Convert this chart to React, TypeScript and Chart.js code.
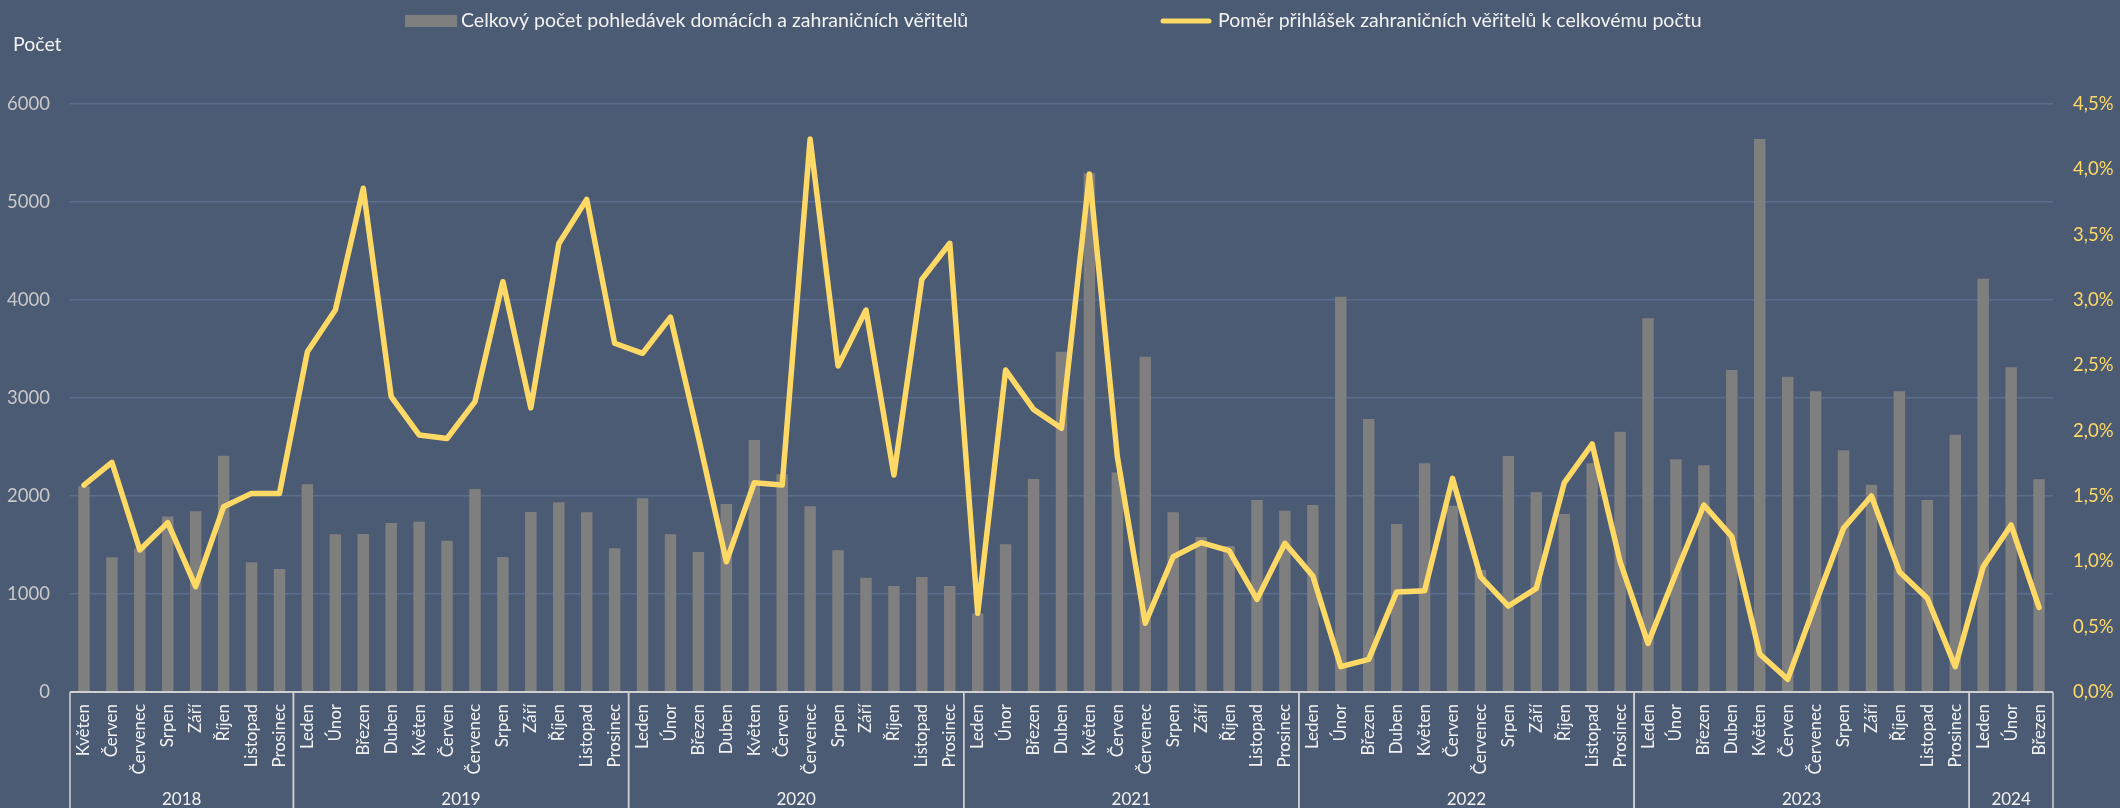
import React, { useEffect, useRef } from "react";
import { Chart, registerables } from "chart.js";

Chart.register(...registerables);

const monthLabels: string[] = [
  "Květen", "Červen", "Červenec", "Srpen", "Září", "Říjen", "Listopad", "Prosinec",
  "Leden", "Únor", "Březen", "Duben", "Květen", "Červen", "Červenec", "Srpen", "Září", "Říjen", "Listopad", "Prosinec",
  "Leden", "Únor", "Březen", "Duben", "Květen", "Červen", "Červenec", "Srpen", "Září", "Říjen", "Listopad", "Prosinec",
  "Leden", "Únor", "Březen", "Duben", "Květen", "Červen", "Červenec", "Srpen", "Září", "Říjen", "Listopad", "Prosinec",
  "Leden", "Únor", "Březen", "Duben", "Květen", "Červen", "Červenec", "Srpen", "Září", "Říjen", "Listopad", "Prosinec",
  "Leden", "Únor", "Březen", "Duben", "Květen", "Červen", "Červenec", "Srpen", "Září", "Říjen", "Listopad", "Prosinec",
  "Leden", "Únor", "Březen",
];

const yearLabels: string[] = ["2018", "2019", "2020", "2021", "2022", "2023", "2024"];
const monthsPerYear: number[] = [8, 12, 12, 12, 12, 12, 3];

const totalClaims: number[] = [
  2100, 1375, 1465, 1790, 1845, 2410, 1323, 1255,
  2119, 1610, 1612, 1724, 1736, 1544, 2071, 1377, 1838, 1935, 1834, 1466,
  1976, 1610, 1429, 1918, 2571, 2221, 1895, 1446, 1166, 1082, 1173, 1082,
  800, 1507, 2173, 3473, 5293, 2241, 3422, 1833, 1582, 1490, 1959, 1850,
  1908, 4034, 2786, 1714, 2333, 1901, 1245, 2408, 2037, 1816, 2333, 2656,
  3813, 2374, 2313, 3286, 5643, 3218, 3068, 2466, 2116, 3068, 1959, 2626,
  4218, 3313, 2170,
];

const foreignShare: number[] = [
  1.584, 1.758, 1.087, 1.296, 0.806, 1.418, 1.52, 1.52,
  2.604, 2.923, 3.855, 2.26, 1.967, 1.94, 2.222, 3.14, 2.175, 3.43, 3.77, 2.669,
  2.592, 2.868, 1.95, 0.997, 1.602, 1.584, 4.232, 2.495, 2.923, 1.66, 3.158, 3.434,
  0.602, 2.464, 2.163, 2.018, 3.964, 1.8, 0.526, 1.035, 1.143, 1.082, 0.709, 1.138,
  0.888, 0.194, 0.25, 0.766, 0.775, 1.635, 0.883, 0.658, 0.793, 1.6, 1.898, 0.997,
  0.372, 0.908, 1.431, 1.189, 0.291, 0.097, 0.68, 1.253, 1.5, 0.921, 0.717, 0.194,
  0.959, 1.278, 0.648,
];

const barLabel = "Celkový počet pohledávek domácích a zahraničních věřitelů";
const lineLabel = "Poměr přihlášek zahraničních věřitelů k celkovému počtu";
const leftAxisTitle = "Počet";

const BG = "#4b5b73";
const GRID = "#5b6e8c";
const BAR = "#7f7f7f";
const LINE = "#ffd966";
const TEXT = "#f2f2f2";
const TICK_LEFT = "#c9c9c9";
const AXIS = "#d0d0d0";
const FONT = "Lato, 'Open Sans', sans-serif";

const decorPlugin = {
  id: "decor",
  afterDraw(chart: any) {
    const ctx = chart.ctx as CanvasRenderingContext2D;
    const area = chart.chartArea;
    const xs = chart.scales.x;
    const H = chart.height;
    const W = chart.width;
    ctx.save();

    // baseline
    ctx.strokeStyle = AXIS;
    ctx.lineWidth = 2;
    ctx.beginPath();
    ctx.moveTo(area.left, area.bottom);
    ctx.lineTo(area.right, area.bottom);
    ctx.stroke();

    // year separators + labels
    const step = xs.getPixelForValue(1) - xs.getPixelForValue(0);
    let start = 0;
    ctx.lineWidth = 1.5;
    ctx.font = `17px ${FONT}`;
    ctx.fillStyle = TEXT;
    ctx.textAlign = "center";
    ctx.textBaseline = "middle";
    monthsPerYear.forEach((n, k) => {
      const l = xs.getPixelForValue(start) - step / 2;
      const r = xs.getPixelForValue(start + n - 1) + step / 2;
      [l, r].forEach((px) => {
        ctx.beginPath();
        ctx.moveTo(px, area.bottom);
        ctx.lineTo(px, H);
        ctx.stroke();
      });
      ctx.fillText(yearLabels[k], (l + r) / 2, 800);
      start += n;
    });

    // axis title
    ctx.font = `19.5px ${FONT}`;
    ctx.textAlign = "left";
    ctx.fillText(leftAxisTitle, 13, 45);

    // legend
    const boxW = 52;
    const gapText = 4;
    const ly = 21;
    let x = W / 2 - 655;
    ctx.fillStyle = BAR;
    ctx.fillRect(x, ly - 6, boxW, 12);
    ctx.fillStyle = TEXT;
    ctx.fillText(barLabel, x + boxW + gapText, ly);
    x = W / 2 + 100;
    ctx.strokeStyle = LINE;
    ctx.lineWidth = 5;
    ctx.lineCap = "round";
    ctx.beginPath();
    ctx.moveTo(x + 3, ly);
    ctx.lineTo(x + boxW - 3, ly);
    ctx.stroke();
    ctx.fillStyle = TEXT;
    ctx.fillText(lineLabel, x + boxW + gapText + 2, ly);

    ctx.restore();
  },
};

export default function App() {
  const ref = useRef<HTMLCanvasElement | null>(null);

  useEffect(() => {
    document.body.style.margin = "0";
    if (!ref.current) return;
    const chart = new Chart(ref.current, {
      type: "bar",
      data: {
        labels: monthLabels,
        datasets: [
          {
            type: "line",
            label: lineLabel,
            data: foreignShare,
            yAxisID: "y1",
            borderColor: LINE,
            backgroundColor: LINE,
            borderWidth: 5.5,
            borderJoinStyle: "round",
            borderCapStyle: "round",
            pointRadius: 0,
            tension: 0,
            order: 0,
          } as any,
          {
            type: "bar",
            label: barLabel,
            data: totalClaims,
            yAxisID: "y",
            backgroundColor: BAR,
            categoryPercentage: 1,
            barPercentage: 0.41,
            order: 1,
          },
        ],
      },
      options: {
        animation: false,
        responsive: true,
        maintainAspectRatio: false,
        layout: { padding: { top: 104, left: 0, right: 0, bottom: 0 } },
        plugins: {
          legend: { display: false },
          tooltip: { enabled: false },
        },
        scales: {
          x: {
            grid: { display: false, drawTicks: false },
            border: { display: false },
            ticks: {
              autoSkip: false,
              minRotation: 90,
              maxRotation: 90,
              padding: 12,
              color: TEXT,
              font: { family: FONT, size: 17 },
            },
            afterFit: (s: any) => {
              s.height = 116;
            },
          },
          y: {
            position: "left",
            min: 0,
            max: 6000,
            ticks: {
              stepSize: 1000,
              padding: 20,
              color: TICK_LEFT,
              font: { family: FONT, size: 18.5 },
              callback: (v: any) => String(v),
            },
            grid: { color: GRID, lineWidth: 1.5, drawTicks: false },
            border: { display: false },
            afterFit: (s: any) => {
              s.width = 70;
            },
          },
          y1: {
            position: "right",
            min: 0,
            max: 4.5,
            ticks: {
              stepSize: 0.5,
              padding: 20,
              color: LINE,
              font: { family: FONT, size: 18.5 },
              callback: (v: any) => Number(v).toFixed(1).replace(".", ",") + "%",
            },
            grid: { display: false, drawTicks: false },
            border: { display: false },
            afterFit: (s: any) => {
              s.width = 67;
            },
          },
        },
      },
      plugins: [decorPlugin],
    });
    return () => chart.destroy();
  }, []);

  return (
    <div style={{ width: 2120, height: 808, background: BG, position: "relative" }}>
      <canvas ref={ref} />
    </div>
  );
}
